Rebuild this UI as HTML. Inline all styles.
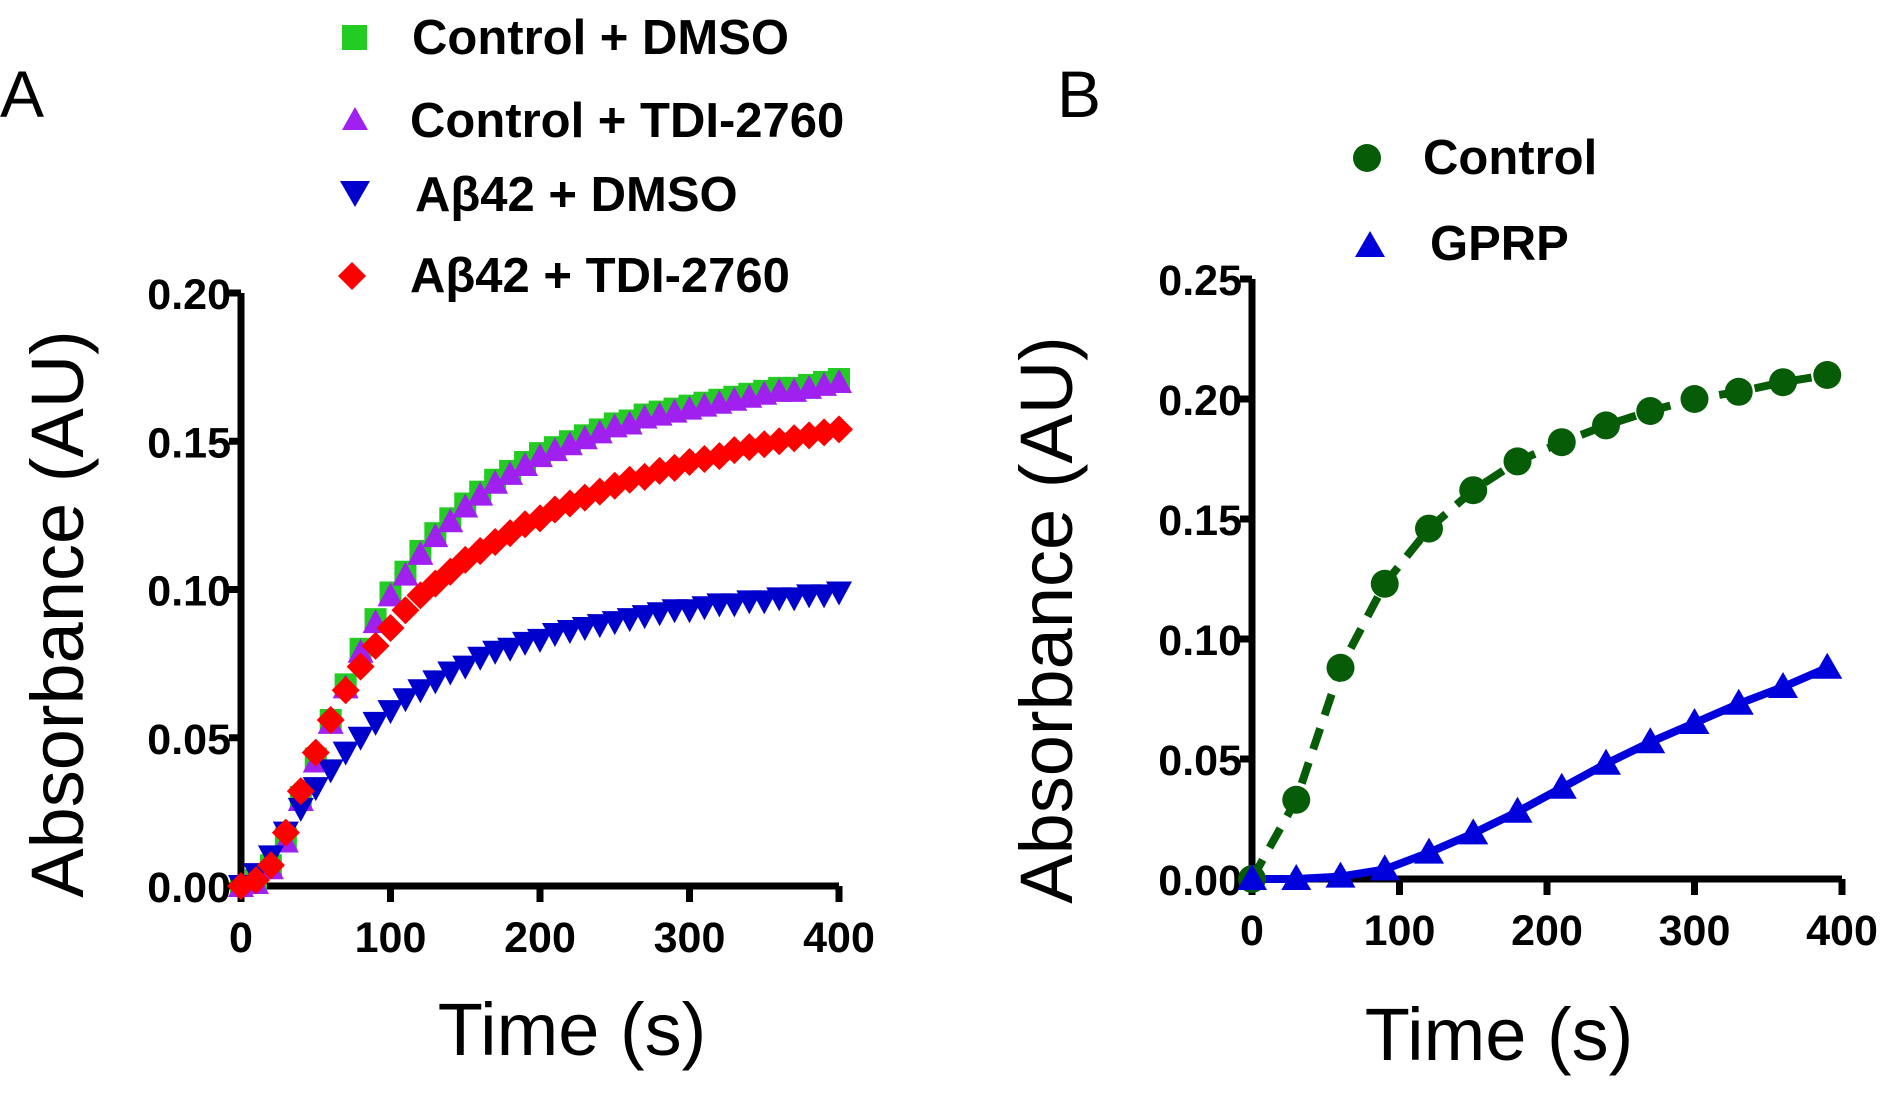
<!DOCTYPE html>
<html><head><meta charset="utf-8"><style>
html,body{margin:0;padding:0;background:#fff;}
svg{display:block;font-family:"Liberation Sans",sans-serif;}
.tk{font-weight:bold;font-size:43px;}
.lg{font-weight:bold;font-size:49px;}
.ttl{font-size:74px;}
</style></head><body>
<svg id="fig" width="1888" height="1107" viewBox="0 0 1888 1107">
<text x="0" y="117" font-size="66">A</text>
<text x="1057" y="117" font-size="66">B</text>
<g id="legA">
<rect x="342" y="25" width="25" height="25" fill="#22cc22"/>
<text class="lg" x="412" y="54">Control + DMSO</text>
<polygon points="355,107 368,130 342,130" fill="#a020f0"/>
<text class="lg" x="410" y="137">Control + TDI-2760</text>
<polygon points="340,181 370,181 355,207" fill="#0000cc"/>
<text class="lg" x="415" y="211">Aβ42 + DMSO</text>
<polygon points="352,262 366,276 352,290 338,276" fill="#ff0000"/>
<text class="lg" x="410" y="292">Aβ42 + TDI-2760</text>
</g>
<g>
<circle cx="1367" cy="158" r="14" fill="#075c07"/>
<text class="lg" x="1423" y="174">Control</text>
<polygon points="1370,231 1385,257 1355,257" fill="#0000dd"/>
<text class="lg" x="1430" y="260">GPRP</text>
</g>
<text class="ttl" transform="translate(83,614) rotate(-90)" text-anchor="middle">Absorbance (AU)</text>
<text class="ttl" x="572" y="1055" text-anchor="middle">Time (s)</text>
<text class="ttl" transform="translate(1072,620) rotate(-90)" text-anchor="middle">Absorbance (AU)</text>
<text class="ttl" x="1499" y="1060" text-anchor="middle">Time (s)</text>
<g id="A"></g><g id="B"></g>
</svg>
<script>
const tA=[0,10,20,30,40,50,60,70,80,90,100,110,120,130,140,150,160,170,180,190,200,210,220,230,240,250,260,270,280,290,300,310,320,330,340,350,360,370,380,390,400];
const ctrlDmso=[0,0.002,0.007,0.016,0.03,0.043,0.056,0.068,0.08,0.09,0.099,0.106,0.113,0.119,0.124,0.129,0.133,0.137,0.140,0.143,0.146,0.148,0.150,0.152,0.154,0.156,0.157,0.159,0.160,0.161,0.162,0.163,0.164,0.165,0.166,0.167,0.168,0.168,0.169,0.170,0.171];
const ctrlTdi=[0,0.001,0.006,0.015,0.029,0.042,0.055,0.067,0.079,0.089,0.098,0.105,0.112,0.118,0.123,0.128,0.132,0.136,0.139,0.142,0.145,0.147,0.149,0.151,0.153,0.155,0.156,0.158,0.159,0.160,0.161,0.162,0.163,0.164,0.165,0.166,0.167,0.167,0.168,0.169,0.170];
const abDmso=[0,0.004,0.01,0.018,0.026,0.033,0.039,0.045,0.050,0.055,0.059,0.063,0.066,0.069,0.072,0.074,0.077,0.079,0.080,0.082,0.083,0.085,0.086,0.087,0.088,0.089,0.090,0.091,0.092,0.093,0.093,0.094,0.095,0.095,0.096,0.096,0.097,0.097,0.098,0.098,0.099];
const abTdi=[0,0.002,0.007,0.018,0.032,0.045,0.056,0.066,0.074,0.081,0.087,0.093,0.098,0.102,0.106,0.110,0.113,0.116,0.119,0.122,0.124,0.127,0.129,0.131,0.133,0.135,0.137,0.138,0.140,0.141,0.143,0.144,0.145,0.147,0.148,0.149,0.150,0.151,0.152,0.153,0.154];
const ticksA=[0,0.05,0.10,0.15,0.20];
const tickLabelsA=["0.00","0.05","0.10","0.15","0.20"];
const xTicks=[0,100,200,300,400];
const tB=[0,30,60,90,120,150,180,210,240,270,300,330,360,390];
const ctrlB=[0,0.033,0.088,0.123,0.146,0.162,0.174,0.182,0.189,0.195,0.200,0.203,0.207,0.210];
const gprpB=[0,0,0.001,0.004,0.011,0.019,0.028,0.038,0.048,0.057,0.065,0.073,0.080,0.088];
const ticksB=[0,0.05,0.10,0.15,0.20,0.25];
const tickLabelsB=["0.00","0.05","0.10","0.15","0.20","0.25"];
const NS="http://www.w3.org/2000/svg";
function mk(p,tag,at){const e=document.createElementNS(NS,tag);for(const k in at)e.setAttribute(k,at[k]);p.appendChild(e);return e;}
function axes(g,X,Y,x0,x1,y0,y1,yt,ytl,name){
 const ax=mk(g,'path',{d:`M${X(x0)},${Y(y1)}V${Y(0)}H${X(x1)}`,stroke:'#000','stroke-width':7,fill:'none'});
 
 
 yt.forEach((v,i)=>{const l=mk(g,'line',{x1:X(0)-12,x2:X(0),y1:Y(v),y2:Y(v),stroke:'#000','stroke-width':7});
  
  
  const t=mk(g,'text',{x:X(0)-10,y:Y(v)+16,'text-anchor':'end',class:'tk'});t.textContent=ytl[i];
  
  });
 xTicks.forEach(v=>{const l=mk(g,'line',{x1:X(v),x2:X(v),y1:Y(0),y2:Y(0)+16,stroke:'#000','stroke-width':7});
  
  
  const t=mk(g,'text',{x:X(v),y:Y(0)+66,'text-anchor':'middle',class:'tk'});t.textContent=v;
  
  });
}
const gA=document.getElementById('A');
const XA=v=>241+v*(839-241)/400, YA=v=>886-v*(886-293)/0.20;
axes(gA,XA,YA,0,400,0,0.20,ticksA,tickLabelsA,'panel-a');
function series(g,xs,ys,X,Y,shape,color,name){
 xs.forEach((x,i)=>{const cx=X(x),cy=Y(ys[i]);let e;const s=11;
  if(shape==='sq')e=mk(g,'rect',{x:cx-s,y:cy-s,width:2*s,height:2*s,fill:color});
  else if(shape==='up')e=mk(g,'polygon',{points:`${cx},${cy-13} ${cx+13},${cy+11} ${cx-13},${cy+11}`,fill:color});
  else if(shape==='dn')e=mk(g,'polygon',{points:`${cx-13},${cy-11} ${cx+13},${cy-11} ${cx},${cy+13}`,fill:color});
  else if(shape==='dm')e=mk(g,'polygon',{points:`${cx},${cy-14} ${cx+14},${cy} ${cx},${cy+14} ${cx-14},${cy}`,fill:color});
  else if(shape==='ci')e=mk(g,'circle',{cx:cx,cy:cy,r:14,fill:color});
  else if(shape==='up2')e=mk(g,'polygon',{points:`${cx},${cy-15} ${cx+15},${cy+11} ${cx-15},${cy+11}`,fill:color});
  
  });
}
series(gA,tA,ctrlDmso,XA,YA,'sq','#22cc22','control-dmso');
series(gA,tA,ctrlTdi,XA,YA,'up','#a020f0','control-tdi');
series(gA,tA,abDmso,XA,YA,'dn','#0000cc','abeta-dmso');
series(gA,tA,abTdi,XA,YA,'dm','#ff0000','abeta-tdi');
const gB=document.getElementById('B');
const XB=v=>1252+v*(1842-1252)/400, YB=v=>879-v*(879-279)/0.25;
axes(gB,XB,YB,0,400,0,0.25,ticksB,tickLabelsB,'panel-b');
const lc=mk(gB,'polyline',{points:tB.map((t,i)=>XB(t)+','+YB(ctrlB[i])).join(' '),fill:'none',stroke:'#075c07','stroke-width':8,'stroke-dasharray':'22,14'});


const lg=mk(gB,'polyline',{points:tB.map((t,i)=>XB(t)+','+YB(gprpB[i])).join(' '),fill:'none',stroke:'#0000dd','stroke-width':8});


series(gB,tB,ctrlB,XB,YB,'ci','#075c07','control');
series(gB,tB,gprpB,XB,YB,'up2','#0000dd','gprp');
</script>
</body></html>
